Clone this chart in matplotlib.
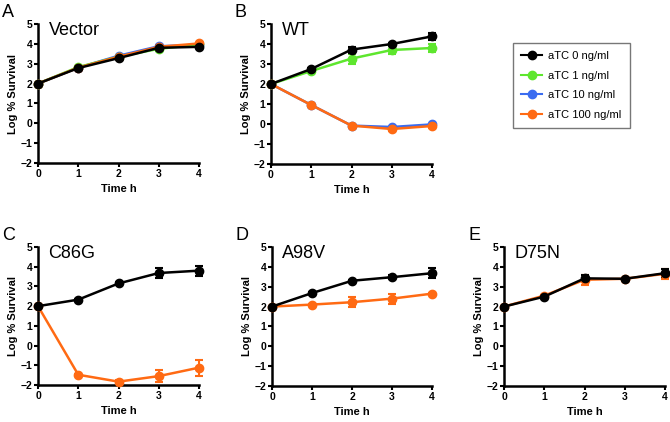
import matplotlib
matplotlib.use('Agg')
import matplotlib.pyplot as plt
from matplotlib.lines import Line2D

plt.rcParams['font.family'] = ['Liberation Sans', 'DejaVu Sans']

time_h = [0, 1, 2, 3, 4]
series_names = ['aTC 0 ng/ml', 'aTC 1 ng/ml', 'aTC 10 ng/ml', 'aTC 100 ng/ml']
series_colors = ['black', '#5ee62e', '#3a6cf0', '#ff6a13']
draw_order = [2, 1, 3, 0]  # black ends up on top

# panel -> {series index: (values, errors)}
vector = {
    3: ([2, 2.80, 3.35, 3.85, 4.02], [0, 0, 0, 0, 0]),
    2: ([2, 2.80, 3.40, 3.88, 3.95], [0, 0, 0, 0, 0]),
    1: ([2, 2.83, 3.35, 3.75, 3.97], [0, 0, 0, 0, 0]),
    0: ([2, 2.78, 3.28, 3.80, 3.85], [0, 0.03, 0.05, 0.15, 0.05]),
}
wt = {
    3: ([2, 0.95, -0.08, -0.25, -0.10], [0, 0.05, 0.05, 0.08, 0.12]),
    2: ([2, 0.95, -0.08, -0.15, -0.02], [0, 0, 0, 0, 0]),
    1: ([2, 2.65, 3.27, 3.70, 3.80], [0, 0.05, 0.25, 0.20, 0.22]),
    0: ([2, 2.75, 3.72, 4.00, 4.38], [0, 0.03, 0.15, 0.05, 0.17]),
}
c86g = {
    3: ([2, -1.48, -1.83, -1.55, -1.12], [0, 0.05, 0.08, 0.30, 0.40]),
    0: ([2, 2.33, 3.15, 3.68, 3.80], [0, 0.03, 0.05, 0.25, 0.25]),
}
a98v = {
    3: ([2, 2.10, 2.22, 2.40, 2.65], [0, 0.03, 0.25, 0.25, 0.05]),
    0: ([2, 2.68, 3.30, 3.48, 3.68], [0, 0.03, 0.05, 0.10, 0.25]),
}
d75n = {
    3: ([2, 2.55, 3.35, 3.40, 3.65], [0, 0.05, 0.25, 0.05, 0.25]),
    0: ([2, 2.50, 3.42, 3.40, 3.68], [0, 0.05, 0.15, 0.05, 0.20]),
}

panels = [
    ('A', 'Vector', vector, (38, 24, 199, 163)),
    ('B', 'WT', wt, (271, 24, 432, 164)),
    ('C', 'C86G', c86g, (38, 247, 199, 385)),
    ('D', 'A98V', a98v, (272, 247, 432, 386)),
    ('E', 'D75N', d75n, (504, 247, 665, 386)),
]

W, H = 670, 422
fig = plt.figure(figsize=(W / 100, H / 100), dpi=100)

for letter, title, data, (l, t, r, b) in panels:
    ax = fig.add_axes([l / W, 1 - b / H, (r - l) / W, (b - t) / H])
    for idx in draw_order:
        if idx not in data:
            continue
        vals, errs = data[idx]
        ax.errorbar(time_h, vals, yerr=errs, color=series_colors[idx], marker='o',
                    markersize=6, lw=1.8, capsize=3, capthick=1.5, elinewidth=1.5,
                    clip_on=False, zorder=3)
    ax.set_xlim(0, 4)
    ax.set_ylim(-2, 5)
    ax.set_xticks(time_h)
    ax.set_yticks(range(-2, 6))
    for s in ['top', 'right']:
        ax.spines[s].set_visible(False)
    for s in ['left', 'bottom']:
        ax.spines[s].set_linewidth(1.8)
    ax.tick_params(width=1.5, length=3, labelsize=7.5, pad=1)
    for lab in ax.get_xticklabels() + ax.get_yticklabels():
        lab.set_fontweight('bold')
    ax.set_xlabel('Time h', fontsize=8, fontweight='bold', labelpad=4)
    ax.set_ylabel('Log % Survival', fontsize=8, fontweight='bold', labelpad=2)
    ax.text(0.065, 1.015, title, transform=ax.transAxes, fontsize=13, va='top', ha='left')
    fig.text((l - 36) / W, 1 - (t - 20) / H, letter, fontsize=13, va='top', ha='left')

handles = [Line2D([], [], color=c, marker='o', markersize=6, lw=1.5) for c in series_colors]
leg = fig.legend(handles, series_names, loc='upper left',
                 bbox_to_anchor=(513 / W, 1 - 43 / H), borderaxespad=0,
                 fontsize=8, frameon=True, fancybox=False, edgecolor='#555555',
                 handlelength=1.9, handletextpad=0.5, labelspacing=0.85, borderpad=0.75)
leg.get_frame().set_linewidth(1.0)

fig.savefig('out.png', dpi=100)
